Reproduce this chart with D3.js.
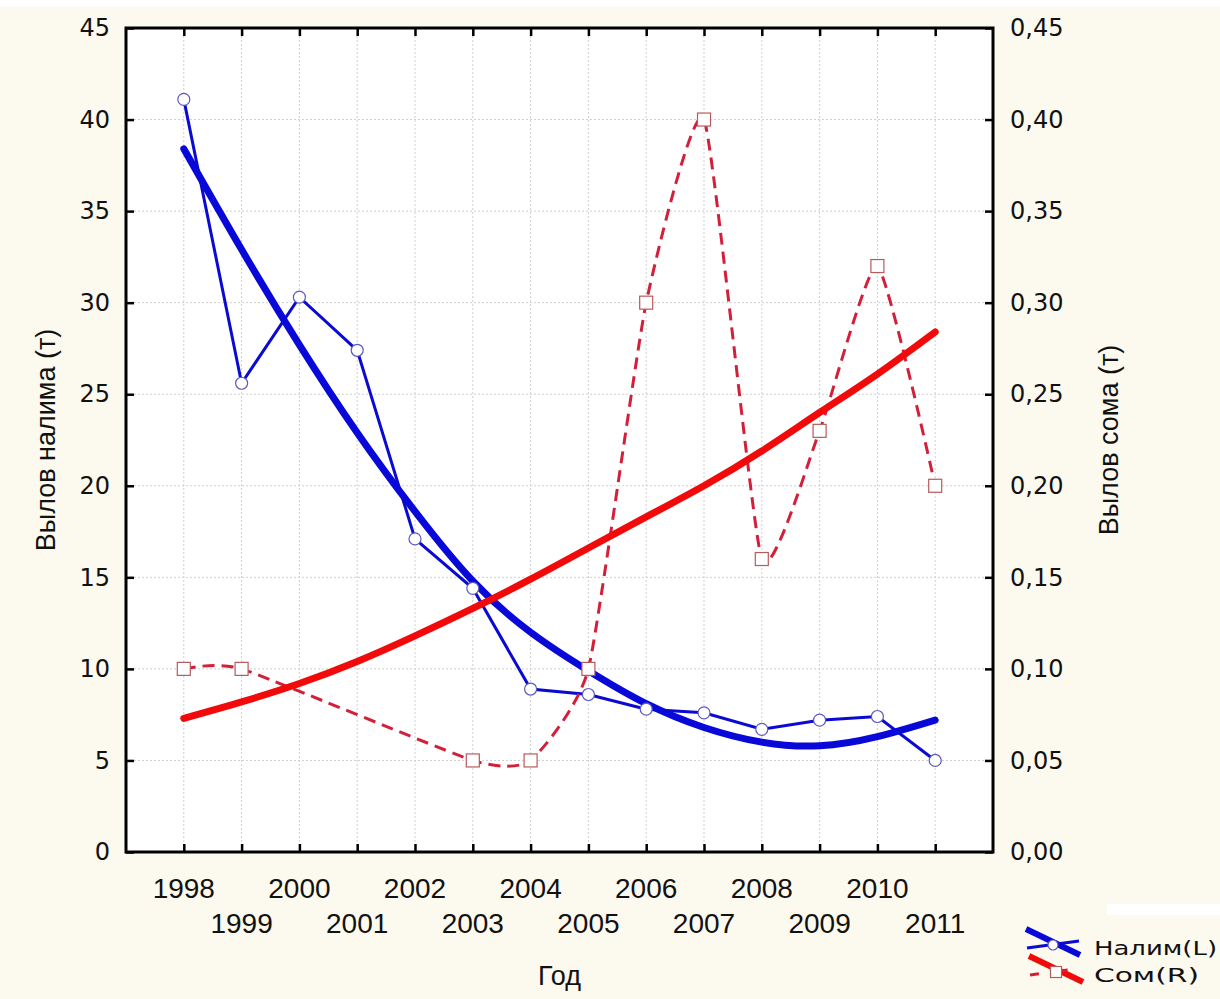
<!DOCTYPE html>
<html>
<head>
<meta charset="utf-8">
<script src="https://cdn.jsdelivr.net/npm/d3@7"></script>
<style>
  body { margin: 0; background: #fcf9ef; }
  svg { display: block; }
</style>
</head>
<body>
<script>
// data
var years = [1998, 1999, 2000, 2001, 2002, 2003, 2004, 2005, 2006, 2007, 2008, 2009, 2010, 2011];
var nalim = [41.1, 25.6, 30.3, 27.4, 17.1, 14.4, 8.9, 8.6, 7.8, 7.6, 6.7, 7.2, 7.4, 5.0];
var nalimFit = [38.4, 32.9, 27.7, 22.9, 18.6, 14.8, 12.0, 9.9, 8.1, 6.8, 6.0, 5.8, 6.3, 7.2];
var som = [0.10, 0.10, null, null, null, 0.05, 0.05, 0.10, 0.30, 0.40, 0.16, 0.23, 0.32, 0.20];
var somFit = [0.073, 0.082, 0.092, 0.104, 0.118, 0.133, 0.149, 0.166, 0.183, 0.200, 0.219, 0.240, 0.261, 0.284];
var leftTicks = [0, 5, 10, 15, 20, 25, 30, 35, 40, 45];
var rightTicks = [0, 0.05, 0.10, 0.15, 0.20, 0.25, 0.30, 0.35, 0.40, 0.45];

var width = 1220, height = 999;
var pL = 126, pR = 993, pT = 28, pB = 852;

var svg = d3.select("body").append("svg")
    .attr("width", width)
    .attr("height", height);

svg.append("rect").attr("width", width).attr("height", height).attr("fill", "#fcf9ef");
svg.append("rect").attr("width", width).attr("height", 7).attr("fill", "#ffffff");
svg.append("rect").attr("x", 1107).attr("y", 904).attr("width", 113).attr("height", 11).attr("fill", "#ffffff");

var x = d3.scaleLinear().domain([1997, 2012]).range([pL, pR]);
var yL = d3.scaleLinear().domain([0, 45]).range([pB, pT]);
var yR = d3.scaleLinear().domain([0, 0.45]).range([pB, pT]);

// plot area
svg.append("rect")
    .attr("x", pL).attr("y", pT)
    .attr("width", pR - pL).attr("height", pB - pT)
    .attr("fill", "#ffffff");

// grid
var grid = svg.append("g").attr("stroke", "#cfcfcf").attr("stroke-width", 1).attr("stroke-dasharray", "2,2");
grid.selectAll(".gx").data(years).enter().append("line")
    .attr("x1", d => x(d)).attr("x2", d => x(d))
    .attr("y1", pT).attr("y2", pB);
grid.selectAll(".gy").data(leftTicks.slice(1, -1)).enter().append("line")
    .attr("x1", pL).attr("x2", pR)
    .attr("y1", d => yL(d)).attr("y2", d => yL(d));

// lines
var thin = d3.line().x((d, i) => x(years[i])).y(d => yL(d));
var smoothL = d3.line().x((d, i) => x(years[i])).y(d => yL(d)).curve(d3.curveNatural);
var smoothR = d3.line().x((d, i) => x(years[i])).y(d => yR(d)).curve(d3.curveNatural);

var somPts = years.map((yr, i) => [yr, som[i]]).filter(p => p[1] != null);
var dashed = d3.line().x(d => x(d[0])).y(d => yR(d[1])).curve(d3.curveCardinal.tension(0.5));

svg.append("path").datum(nalim)
    .attr("d", thin)
    .attr("fill", "none").attr("stroke", "#0a0ad2").attr("stroke-width", 3);

svg.append("path").datum(nalimFit)
    .attr("d", smoothL)
    .attr("fill", "none").attr("stroke", "#0808d8").attr("stroke-width", 7)
    .attr("stroke-linecap", "round");

svg.append("path").datum(somPts)
    .attr("d", dashed)
    .attr("fill", "none").attr("stroke", "#d3203a").attr("stroke-width", 3)
    .attr("stroke-dasharray", "12,7");

svg.append("path").datum(somFit)
    .attr("d", smoothR)
    .attr("fill", "none").attr("stroke", "#f20a0a").attr("stroke-width", 7)
    .attr("stroke-linecap", "round");

// markers
svg.selectAll(".dot").data(nalim).enter().append("circle")
    .attr("cx", (d, i) => x(years[i])).attr("cy", d => yL(d))
    .attr("r", 6)
    .attr("fill", "#ffffff").attr("stroke", "#5a5ac0").attr("stroke-width", 1.2);

svg.selectAll(".sq").data(somPts).enter().append("rect")
    .attr("x", d => x(d[0]) - 6.5).attr("y", d => yR(d[1]) - 6.5)
    .attr("width", 13).attr("height", 13)
    .attr("fill", "#ffffff").attr("stroke", "#b85a5a").attr("stroke-width", 1.2);

// axes, ticks inside the frame
var axB = svg.append("g").attr("transform", "translate(0," + pB + ")")
    .call(d3.axisBottom(x).tickValues(years).tickSize(-8).tickFormat(""));
var axT = svg.append("g").attr("transform", "translate(0," + pT + ")")
    .call(d3.axisTop(x).tickValues(years).tickSize(-8).tickFormat(""));
var axL = svg.append("g").attr("transform", "translate(" + pL + ",0)")
    .call(d3.axisLeft(yL).tickValues(leftTicks).tickSize(-8).tickPadding(16));
var axR = svg.append("g").attr("transform", "translate(" + pR + ",0)")
    .call(d3.axisRight(yR).tickValues(rightTicks).tickSize(-8).tickPadding(17)
        .tickFormat(d => d3.format(".2f")(d).replace(".", ",")));

[axB, axT, axL, axR].forEach(function (a) {
    a.select(".domain").remove();
    a.selectAll(".tick line").attr("stroke", "#000").attr("stroke-width", 2.5);
    a.selectAll("text").attr("fill", "#111").style("font-family", "DejaVu Sans").style("font-size", "24px");
});

// frame
svg.append("rect")
    .attr("x", pL).attr("y", pT)
    .attr("width", pR - pL).attr("height", pB - pT)
    .attr("fill", "none").attr("stroke", "#000").attr("stroke-width", 3);

// x labels in two rows
svg.selectAll(".xl").data(years).enter().append("text")
    .attr("x", d => x(d))
    .attr("y", (d, i) => i % 2 == 0 ? 898 : 933)
    .attr("text-anchor", "middle")
    .style("font-family", "Liberation Sans").style("font-size", "28px")
    .attr("fill", "#111")
    .text(d => d);

// axis titles
svg.append("text")
    .attr("transform", "translate(55," + (pT + pB) / 2 + ") rotate(-90)")
    .attr("text-anchor", "middle")
    .style("font-family", "Liberation Sans").style("font-size", "27px")
    .attr("fill", "#111")
    .text("Вылов налима (т)");

svg.append("text")
    .attr("transform", "translate(1118," + 440 + ") rotate(-90)")
    .attr("text-anchor", "middle")
    .style("font-family", "Liberation Sans").style("font-size", "27px")
    .attr("fill", "#111")
    .text("Вылов сома (т)");

svg.append("text")
    .attr("x", (pL + pR) / 2).attr("y", 985)
    .attr("text-anchor", "middle")
    .style("font-family", "Liberation Sans").style("font-size", "27px")
    .attr("fill", "#111")
    .text("Год");

// legend
var legend = [
    {name: "Налим(L)", cx: 1053, cy: 945, fit: "#0808d8", line: "#0a0ad2", dash: null, mark: "circle", w: 123},
    {name: "Сом(R)", cx: 1056, cy: 972, fit: "#f20a0a", line: "#d3203a", dash: "9,20", mark: "square", w: 105}
];
var lg = svg.append("g");
legend.forEach(function (d) {
    lg.append("line")
        .attr("x1", d.cx - 27).attr("y1", d.cy - 16).attr("x2", d.cx + 27).attr("y2", d.cy + 10)
        .attr("stroke", d.fit).attr("stroke-width", 6);
    lg.append("line")
        .attr("x1", d.cx - 26).attr("y1", d.cy + 3).attr("x2", d.cx + 26).attr("y2", d.cy - 4)
        .attr("stroke", d.line).attr("stroke-width", 3)
        .attr("stroke-dasharray", d.dash);
    if (d.mark == "circle") {
        lg.append("circle").attr("cx", d.cx).attr("cy", d.cy).attr("r", 5)
            .attr("fill", "#fff").attr("stroke", "#5a5ac0").attr("stroke-width", 1.2);
    } else {
        lg.append("rect").attr("x", d.cx - 5.5).attr("y", d.cy - 5.5).attr("width", 11).attr("height", 11)
            .attr("fill", "#fff").attr("stroke", "#b85a5a").attr("stroke-width", 1.2);
    }
    lg.append("text")
        .attr("x", 1094).attr("y", d.cy + 10)
        .attr("textLength", d.w).attr("lengthAdjust", "spacingAndGlyphs")
        .style("font-family", "DejaVu Sans").style("font-size", "19px")
        .attr("fill", "#111")
        .text(d.name);
});
</script>
</body>
</html>
